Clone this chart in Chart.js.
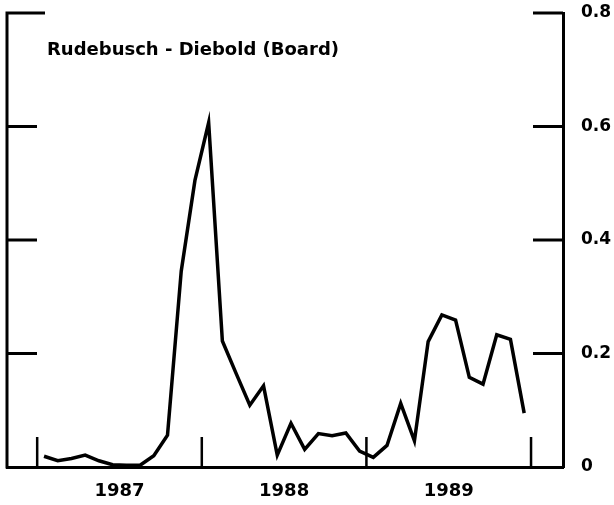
<!DOCTYPE html>
<html>
<head>
<meta charset="utf-8">
<script src="https://cdn.jsdelivr.net/npm/chart.js@4"></script>
<style>
  html, body { margin: 0; padding: 0; background: #fff; }
  #wrap { width: 614px; height: 505px; }
</style>
</head>
<body>
<div id="wrap"><canvas id="chart" width="614" height="505"></canvas></div>
<script>
// monthly values, Jan 1987 .. Dec 1989
const months = Array.from({ length: 36 }, (_, i) => i + 0.5);
const probValues = [
  0.019, 0.011, 0.015, 0.021, 0.011, 0.004, 0.003, 0.003, 0.020, 0.056, 0.345, 0.505,
  0.607, 0.222, 0.165, 0.109, 0.143, 0.021, 0.077, 0.031, 0.059, 0.055, 0.060, 0.028,
  0.017, 0.038, 0.112, 0.046, 0.221, 0.268, 0.259, 0.158, 0.146, 0.233, 0.225, 0.095
];
const yearLabels = ['1987', '1988', '1989'];
const yearCenters = [6, 18, 30];
const yearBounds = [0, 12, 24, 36];
const yTicks = [0, 0.2, 0.4, 0.6, 0.8];
const titleText = 'Rudebusch - Diebold (Board)';

const FONT = 'DejaVu Sans';

// frame, inner ticks and the title
const framePlugin = {
  id: 'frame',
  afterDraw(chart) {
    const { ctx, chartArea: a, scales } = chart;
    const x = scales.x, y = scales.y;
    ctx.save();
    ctx.strokeStyle = '#000';
    ctx.lineWidth = 3;
    ctx.lineCap = 'butt';
    ctx.beginPath();
    // left side
    ctx.moveTo(a.left, a.bottom + 1.5);
    ctx.lineTo(a.left, a.top - 1.5);
    // y ticks, both sides
    yTicks.forEach(v => {
      if (v === 0) return;
      const py = y.getPixelForValue(v);
      ctx.moveTo(a.left, py);
      ctx.lineTo(a.left + (v === 0.8 ? 38 : 30), py);
      ctx.moveTo(a.right, py);
      ctx.lineTo(a.right - 30, py);
    });
    ctx.stroke();
    // year boundaries
    ctx.lineWidth = 2.5;
    ctx.beginPath();
    yearBounds.forEach(m => {
      const px = x.getPixelForValue(m);
      ctx.moveTo(px, a.bottom);
      ctx.lineTo(px, a.bottom - 30);
    });
    ctx.stroke();
    // label
    ctx.fillStyle = '#000';
    ctx.font = 'bold 18px "' + FONT + '"';
    ctx.textBaseline = 'alphabetic';
    ctx.fillText(titleText, 47, 55);
    ctx.restore();
  }
};

const ctx = document.getElementById('chart').getContext('2d');
new Chart(ctx, {
  type: 'line',
  data: {
    datasets: [{
      data: months.map((m, i) => ({ x: m, y: probValues[i] })),
      borderColor: '#000',
      borderWidth: 3.5,
      pointRadius: 0,
      tension: 0,
      fill: false
    }]
  },
  options: {
    responsive: false,
    animation: false,
    layout: { padding: { left: 7, top: 13, right: 0, bottom: 0 } },
    plugins: { legend: { display: false }, tooltip: { enabled: false } },
    scales: {
      x: {
        type: 'linear',
        min: -2.2,
        max: 38.33,
        afterBuildTicks: s => { s.ticks = yearCenters.map(v => ({ value: v })); },
        afterFit: s => {
          s.height = 38;
          s.paddingLeft = 0; s.paddingRight = 0;
        },
        grid: { display: false, drawTicks: false },
        border: { display: true, color: '#000', width: 3 },
        ticks: {
          padding: 14,
          color: '#000',
          font: { family: FONT, size: 18, weight: 'bold' },
          callback: v => yearLabels[yearCenters.indexOf(v)]
        }
      },
      y: {
        position: 'right',
        min: 0,
        max: 0.8,
        afterBuildTicks: s => { s.ticks = yTicks.map(v => ({ value: v })); },
        afterFit: s => {
          s.width = 51;
          s.paddingTop = 0; s.paddingBottom = 0;
        },
        grid: { display: false, drawTicks: false },
        border: { display: true, color: '#000', width: 3 },
        ticks: {
          padding: 18,
          color: '#000',
          font: { family: FONT, size: 17, weight: 'bold' },
          callback: v => (v === 0 ? '0' : v.toFixed(1))
        }
      }
    }
  },
  plugins: [framePlugin]
});
</script>
</body>
</html>
